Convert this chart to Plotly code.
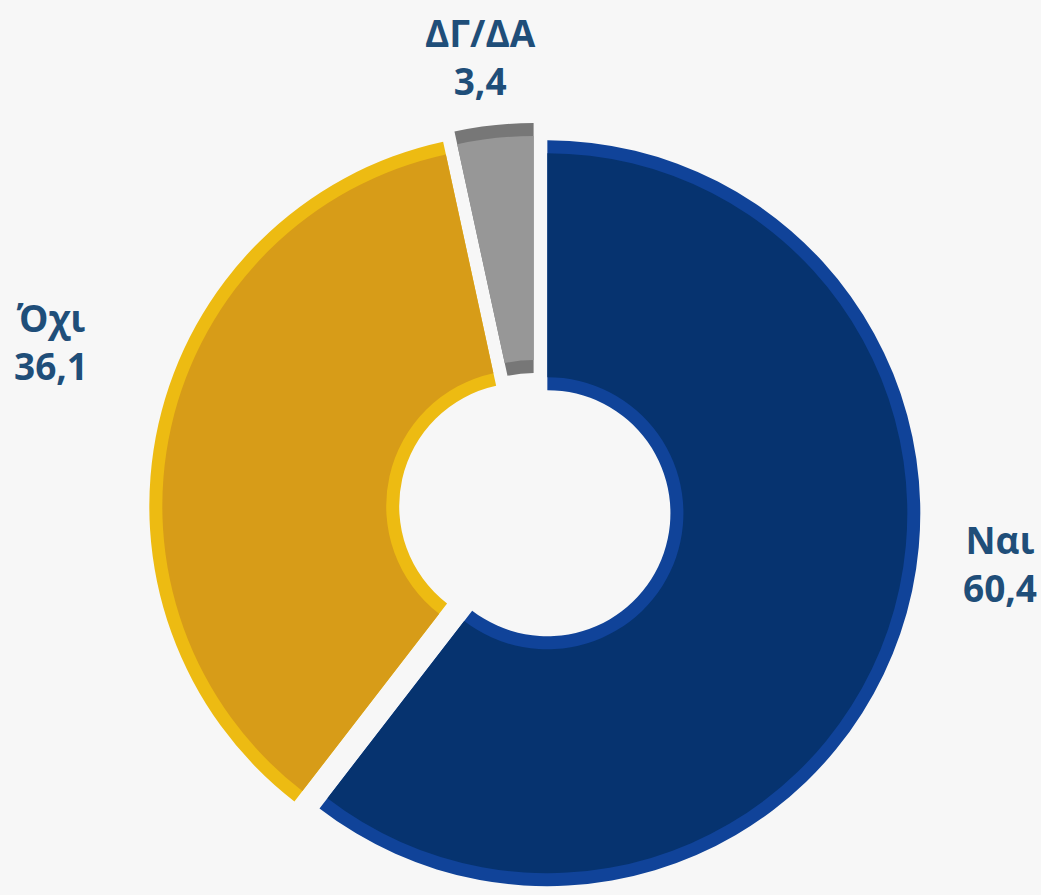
import plotly.graph_objects as go

labels = ["Ναι", "Όχι", "ΔΓ/ΔΑ"]
values = [60.4, 36.1, 3.4]
face_colors = ["#06336F", "#D79C18", "#979797"]
bevel_colors = ["#104399", "#EDBB12", "#777777"]
label_pos = [(1000, 563), (51, 341), (480, 56)]  # pixel centres of text blocks

W, H = 1041, 895
cx, cy = 535, 509
pull = 0.035
half = 386             # domain half-size in px
r = half / (1 + pull)  # actual outer radius
hole_frac = 0.33
bevel = 13


def dom(h):
    return dict(x=[(cx - h) / W, (cx + h) / W],
                y=[(H - cy - h) / H, (H - cy + h) / H])


fig = go.Figure()
# bevel (base) layer
fig.add_trace(go.Pie(
    labels=labels, values=values, hole=hole_frac, sort=False,
    direction="clockwise", rotation=0, pull=[pull] * len(values),
    marker=dict(colors=bevel_colors, line=dict(width=0)),
    textinfo="none", hoverinfo="label+value", showlegend=False,
    domain=dom(half),
))
# face layer
r2 = r - bevel
fig.add_trace(go.Pie(
    labels=labels, values=values, hole=(hole_frac * r + bevel) / r2, sort=False,
    direction="clockwise", rotation=0, pull=[pull * r / r2] * len(values),
    marker=dict(colors=face_colors, line=dict(width=0)),
    textinfo="none", hoverinfo="label+value", showlegend=False,
    domain=dom(r2 * (1 + pull * r / r2)),
))

for lab, val, (px, py) in zip(labels, values, label_pos):
    fig.add_annotation(
        x=px / W, y=1 - py / H, xref="paper", yref="paper",
        xanchor="center", yanchor="middle", showarrow=False,
        text=f"<b>{lab}</b><br><b>{val:.1f}</b>".replace(".", ","),
        font=dict(family="Open Sans", size=37, color="#1F4E79"),
        align="center",
    )

fig.update_layout(
    width=W, height=H,
    margin=dict(l=0, r=0, t=0, b=0),
    paper_bgcolor="#F7F7F7",
    plot_bgcolor="#F7F7F7",
    separators=",.",
)

fig.write_html(
    "out.html",
    config={"displayModeBar": False},
    post_script="document.body.style.margin='0';document.body.style.backgroundColor='#F7F7F7';",
)
